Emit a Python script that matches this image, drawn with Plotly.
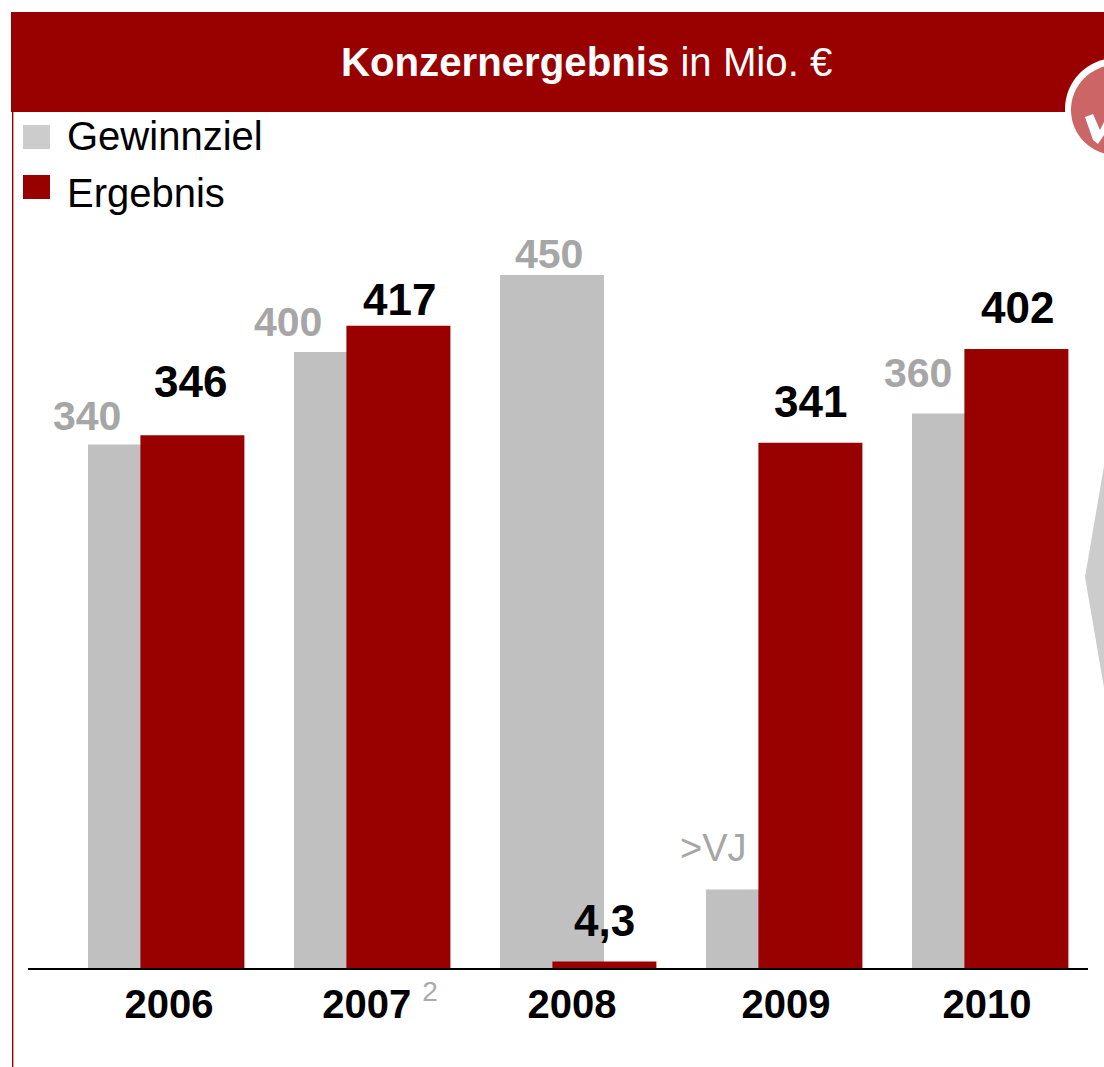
import plotly.graph_objects as go

years = [2006, 2007, 2008, 2009, 2010]
gewinnziel = [340, 400, 450, 51, 360]
gewinnziel_labels = ["340", "400", "450", ">VJ", "360"]
ergebnis = [346, 417, 4.3, 341, 402]
ergebnis_labels = ["346", "417", "4,3", "341", "402"]
tick_labels = ["2006", '2007 <sup><span style="color:#aaaaaa;font-weight:400">2</span></sup>', "2008", "2009", "2010"]

W, H = 1104, 1067
FONT = "Liberation Sans"
RED = "#990000"
GREY = "#c0c0c0"
UNIT = 206.0
BASE = 968.0
PX_PER_VALUE = 1.54

grey_dx = [-79, -84, -29, -71, -72]
grey_dy = [28, 30, 21, 41, 41]
red_dx = [24, 27, 26, 26, 27]
red_dy = [54, 26, 41, 41, 41]
tick_dx = [3, 8, -6, 2, -3]


def px(x):
    return x / W


def py(y):
    return 1 - y / H


def path(points):
    return "M " + " L ".join(f"{px(x):.5f},{py(y):.5f}" for x, y in points) + " Z"


fig = go.Figure()
fig.add_bar(x=years, y=gewinnziel, name="Gewinnziel", width=104 / UNIT, offset=-78 / UNIT,
            marker=dict(color=GREY, line_width=0), showlegend=False)
fig.add_bar(x=years, y=ergebnis, name="Ergebnis", width=104 / UNIT, offset=-25.6 / UNIT,
            marker=dict(color=RED, line_width=0), showlegend=False)

annotations = []
for i, yr in enumerate(years):
    is_text = gewinnziel_labels[i].startswith(">")
    annotations.append(dict(x=yr, y=gewinnziel[i], text=gewinnziel_labels[i], showarrow=False,
                            xanchor="center", yanchor="middle", xshift=grey_dx[i], yshift=grey_dy[i],
                            font=dict(family=FONT, size=38 if is_text else 41, color="#a6a6a6",
                                      weight=400 if is_text else 700)))
    annotations.append(dict(x=yr, y=ergebnis[i], text=ergebnis_labels[i], showarrow=False,
                            xanchor="center", yanchor="middle", xshift=red_dx[i], yshift=red_dy[i],
                            font=dict(family=FONT, size=44, color="#000000", weight=700)))

annotations += [
    dict(xref="paper", yref="paper", x=px(586), y=py(62), showarrow=False, xanchor="center", yanchor="middle",
         text="<b>Konzernergebnis</b> in Mio. €", font=dict(family=FONT, size=40.2, color="#ffffff")),
    dict(xref="paper", yref="paper", x=px(65), y=py(136), showarrow=False, xanchor="left", yanchor="middle",
         text="Gewinnziel", font=dict(family=FONT, size=40, color="#000000")),
    dict(xref="paper", yref="paper", x=px(65), y=py(193), showarrow=False, xanchor="left", yanchor="middle",
         text="Ergebnis", font=dict(family=FONT, size=40, color="#000000")),
]

common = dict(xref="paper", yref="paper", line_width=0)
shapes = [
    dict(type="rect", x0=px(11), x1=px(W), y0=py(12), y1=py(112), fillcolor=RED, **common),
    dict(type="rect", x0=px(12), x1=px(13.4), y0=py(112), y1=py(H), fillcolor=RED, **common),
    dict(type="rect", x0=px(23), x1=px(50), y0=py(125), y1=py(149), fillcolor="#cccccc", **common),
    dict(type="rect", x0=px(23), x1=px(50), y0=py(175), y1=py(199), fillcolor=RED, **common),
    dict(type="circle", x0=px(1065), x1=px(1167), y0=py(58), y1=py(160), fillcolor="#ffffff", **common),
    dict(type="circle", x0=px(1071), x1=px(1161), y0=py(65), y1=py(155), fillcolor="#cc6666", **common),
    dict(type="path", path=path([(1085, 117), (1093, 114), (1100, 130), (1104, 122), (1104, 135), (1098, 144), (1093, 140)]),
         fillcolor="#ffffff", **common),
    dict(type="path", path=path([(1104, 466), (1085, 577), (1104, 688)]), fillcolor="#cccccc", **common),
]

fig.update_layout(
    width=W, height=H, autosize=False, margin=dict(l=0, r=0, t=0, b=0, pad=0),
    paper_bgcolor="#ffffff", plot_bgcolor="#ffffff", barmode="overlay", showlegend=False,
    annotations=annotations, shapes=shapes,
    xaxis=dict(domain=[px(28), px(1088)], range=[2006 - 138 / UNIT, 2006 + 922 / UNIT],
               tickmode="array", tickvals=[y + d / UNIT for y, d in zip(years, tick_dx)], ticktext=tick_labels,
               ticks="", showgrid=False, zeroline=False, showline=True, linecolor="#000000", linewidth=2,
               ticklabelstandoff=0,
               tickfont=dict(family=FONT, size=40, color="#000000", weight=700)),
    yaxis=dict(domain=[py(BASE), 1], range=[0, BASE / PX_PER_VALUE], visible=False),
)

fig.write_html("out.html", config=dict(displayModeBar=False),
               post_script="document.body.style.margin='0';document.body.style.overflow='hidden';")
